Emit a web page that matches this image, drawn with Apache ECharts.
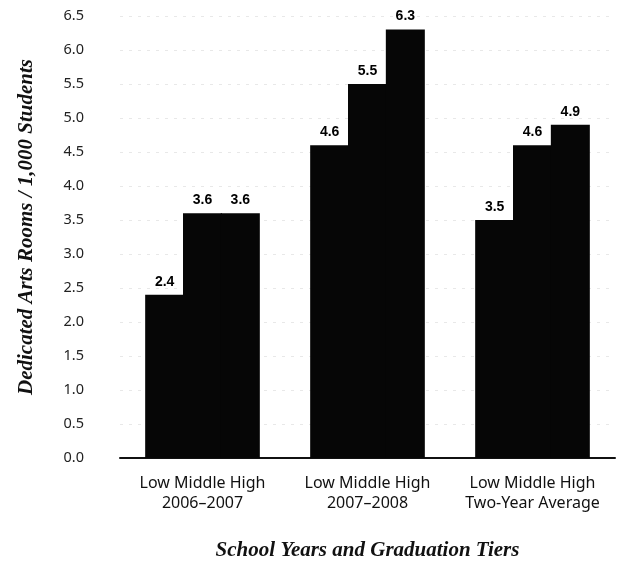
<!DOCTYPE html>
<html><head><meta charset="utf-8">
<script src="https://cdn.jsdelivr.net/npm/echarts@6/dist/echarts.min.js"></script>
<style>html,body{margin:0;padding:0;background:#fff}#c{width:626px;height:561px}</style>
</head><body><div id="c"></div>
<script>
const categories = ['Low Middle High\n2006\u20132007', 'Low Middle High\n2007\u20132008', 'Low Middle High\nTwo-Year Average'];
const lowValues = [2.4, 4.6, 3.5];
const middleValues = [3.6, 5.5, 4.6];
const highValues = [3.6, 6.3, 4.9];
const seriesNames = ['Low', 'Middle', 'High'];
const yTicks = {min: 0, max: 6.5, interval: 0.5};

const chart = echarts.init(document.getElementById('c'), null, {renderer: 'canvas'});
const labelStyle = {show: true, position: 'top', distance: 6, color: '#000', fontFamily: 'Liberation Sans', fontWeight: 'bold', fontSize: 14, formatter: p => p.value.toFixed(1)};
const mk = (name, data) => ({
  name, type: 'bar', data, barGap: '-3%', barWidth: 39,
  itemStyle: {color: '#060606'}, label: labelStyle
});
chart.setOption({
  animation: false,
  backgroundColor: '#fff',
  grid: {left: 120, right: 11, top: 16, bottom: 103, outerBoundsMode: 'none', containLabel: false},
  xAxis: {
    type: 'category', data: categories,
    axisLine: {lineStyle: {color: '#111', width: 2}},
    axisTick: {show: false},
    axisLabel: {interval: 0, color: '#111', fontFamily: 'Noto Sans', fontSize: 16, lineHeight: 20, margin: 15},
    name: 'School Years and Graduation Tiers', nameLocation: 'middle', nameGap: 82,
    nameTextStyle: {fontFamily: 'Liberation Serif', fontStyle: 'italic', fontWeight: 'bold', fontSize: 21, color: '#111'}
  },
  yAxis: {
    type: 'value', min: yTicks.min, max: yTicks.max, interval: yTicks.interval,
    axisLine: {show: false}, axisTick: {show: false},
    axisLabel: {color: '#222', fontFamily: 'Noto Sans', fontSize: 14.5, margin: 36, formatter: v => v.toFixed(1)},
    splitLine: {show: true, lineStyle: {color: '#e8e8e8', type: [3, 6], width: 1}},
    name: 'Dedicated Arts Rooms / 1,000 Students', nameLocation: 'middle', nameGap: 83, nameRotate: 90,
    nameTextStyle: {fontFamily: 'Liberation Serif', fontStyle: 'italic', fontWeight: 'bold', fontSize: 21, color: '#111', padding: [0, 0, 0, 20]}
  },
  series: [mk(seriesNames[0], lowValues), mk(seriesNames[1], middleValues), mk(seriesNames[2], highValues)]
});
</script></body></html>
